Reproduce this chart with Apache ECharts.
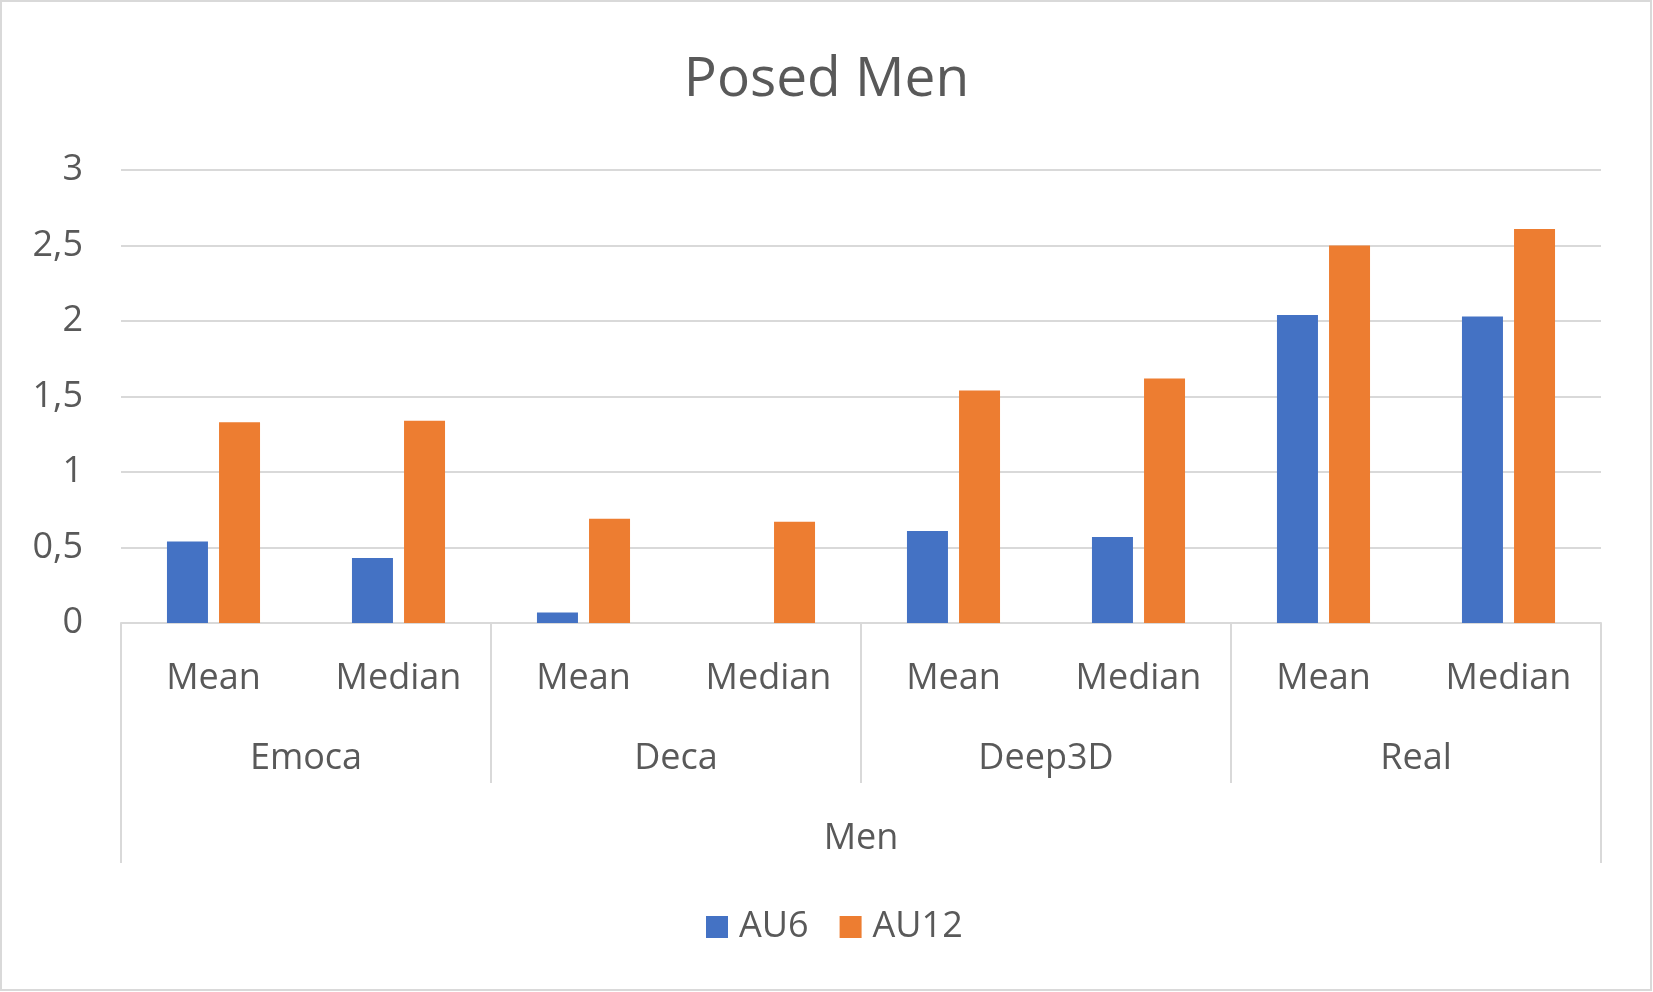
<!DOCTYPE html>
<html>
<head>
<meta charset="utf-8">
<script src="https://cdn.jsdelivr.net/npm/echarts@6/dist/echarts.min.js"></script>
<style>
html,body{margin:0;padding:0;background:#fff;}
#c{width:1653px;height:992px;}
</style>
</head>
<body>
<div id="c"></div>
<script>
var statLabels = ['Mean', 'Median', 'Mean', 'Median', 'Mean', 'Median', 'Mean', 'Median'];
var methodLabels = ['Emoca', 'Deca', 'Deep3D', 'Real'];
var outerLabels = ['Men'];
var seriesNames = ['AU6', 'AU12'];
var au6Values = [0.54, 0.43, 0.07, 0, 0.61, 0.57, 2.04, 2.03];
var au12Values = [1.33, 1.34, 0.69, 0.67, 1.54, 1.62, 2.50, 2.61];
var yTicks = { min: 0, max: 3, interval: 0.5 };

var FONT = '"Open Sans", "Noto Sans", sans-serif';
var TXT = '#595959';
var GRIDC = '#D9D9D9';

var chart = echarts.init(document.getElementById('c'), null, { renderer: 'canvas' });
chart.setOption({
  animation: false,
  backgroundColor: '#ffffff',
  title: {
    text: 'Posed Men',
    left: 'center',
    top: 48,
    textStyle: { fontFamily: FONT, fontSize: 55, fontWeight: 'normal', color: TXT }
  },
  legend: {
    data: seriesNames,
    left: 701,
    top: 904,
    icon: 'rect',
    itemWidth: 22,
    itemHeight: 22,
    itemGap: 31,
    textStyle: { fontFamily: FONT, fontSize: 36, color: TXT, padding: [0, 0, 0, 6] }
  },
  graphic: [{
    type: 'rect',
    shape: { x: 1, y: 1, width: 1650, height: 989 },
    style: { fill: 'none', stroke: GRIDC, lineWidth: 2 },
    silent: true
  }],
  grid: {
    left: 121, right: 52, top: 170, height: 453,
    containLabel: false, outerBoundsMode: 'none'
  },
  yAxis: {
    type: 'value',
    min: yTicks.min, max: yTicks.max, interval: yTicks.interval,
    axisLine: { show: false },
    axisTick: { show: false },
    splitLine: { lineStyle: { color: GRIDC, width: 2 } },
    axisLabel: {
      fontFamily: FONT, fontSize: 36, color: TXT, margin: 38,
      verticalAlign: 'middle', lineHeight: 36, padding: [6, 0, 0, 0],
      formatter: function (v) { return String(v).replace('.', ','); }
    }
  },
  xAxis: [
    {
      type: 'category', data: statLabels, position: 'bottom',
      axisLine: { show: true, lineStyle: { color: GRIDC, width: 2 } },
      axisTick: { show: false },
      axisLabel: { interval: 0, fontFamily: FONT, fontSize: 36, color: TXT, margin: 56, verticalAlign: 'middle' }
    },
    {
      type: 'category', data: methodLabels, position: 'bottom',
      axisLine: { show: false },
      axisTick: { show: true, interval: 0, length: 160, lineStyle: { color: GRIDC, width: 2 } },
      axisLabel: { interval: 0, fontFamily: FONT, fontSize: 36, color: TXT, margin: 136, verticalAlign: 'middle' },
      splitLine: { show: false }
    },
    {
      type: 'category', data: outerLabels, position: 'bottom',
      axisLine: { show: false },
      axisTick: { show: true, interval: 0, length: 240, lineStyle: { color: GRIDC, width: 2 } },
      axisLabel: { interval: 0, fontFamily: FONT, fontSize: 36, color: TXT, margin: 216, verticalAlign: 'middle' },
      splitLine: { show: false }
    }
  ],
  series: [
    {
      name: seriesNames[0], type: 'bar', xAxisIndex: 0, data: au6Values,
      barWidth: 41, barGap: '27%',
      itemStyle: { color: '#4472C4' }
    },
    {
      name: seriesNames[1], type: 'bar', xAxisIndex: 0, data: au12Values,
      barWidth: 41, barGap: '27%',
      itemStyle: { color: '#ED7D31' }
    }
  ]
});
</script>
</body>
</html>
